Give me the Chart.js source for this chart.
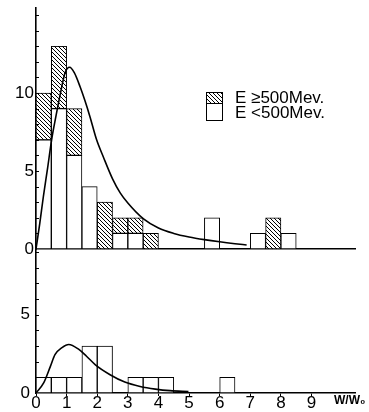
<!DOCTYPE html>
<html>
<head>
<meta charset="utf-8">
<script src="https://cdn.jsdelivr.net/npm/chart.js@4/dist/chart.umd.min.js"></script>
<style>
  html, body { margin: 0; padding: 0; background: #fff; }
  #wrap { position: relative; width: 369px; height: 412px; }
  canvas { position: absolute; left: 0; top: 0; }
</style>
</head>
<body>
<div id="wrap">
  <canvas id="top" width="369" height="412"></canvas>
  <canvas id="bottom" width="369" height="412"></canvas>
</div>
<script>
// ---- data ----
const binCenters = [0.25, 0.75, 1.25, 1.75, 2.25, 2.75, 3.25, 3.75, 4.25, 4.75, 5.25, 5.75, 6.25, 6.75, 7.25, 7.75, 8.25, 8.75];
const topLow   = [7, 9, 6, 4, 0, 1, 1, 0, 0, 0, 0, 2, 0, 0, 1, 0, 1, 0];   // E < 500 Mev
const topHigh  = [3, 4, 3, 0, 3, 1, 1, 1, 0, 0, 0, 0, 0, 0, 0, 2, 0, 0];   // E >= 500 Mev
const bottomLow = [1, 1, 1, 3, 3, 0, 1, 1, 1, 0, 0, 0, 1, 0, 0, 0, 0, 0];

const topCurveX = [0, 0.12, 0.24, 0.38, 0.51, 0.65, 0.78, 0.95, 1.1, 1.25, 1.44, 1.6, 1.76, 1.98, 2.2, 2.5, 2.75, 3.0, 3.5, 4.0, 4.5, 5.0, 5.5, 6.0, 6.5, 6.88];
const topCurveY = [0, 1.6, 3.35, 5.2, 7.0, 8.5, 9.8, 11.3, 11.65, 11.3, 10.4, 9.5, 8.5, 7.0, 5.9, 4.5, 3.6, 2.95, 1.95, 1.35, 1.0, 0.77, 0.6, 0.46, 0.34, 0.26];

const bottomCurveX = [0, 0.25, 0.47, 0.62, 0.85, 1.07, 1.39, 1.65, 1.94, 2.42, 2.9, 3.4, 3.9, 4.38, 4.98];
const bottomCurveY = [0, 0.64, 1.7, 2.45, 2.9, 3.1, 2.8, 2.35, 1.8, 1.17, 0.7, 0.42, 0.25, 0.15, 0.1];

const topYTicks = [0, 5, 10];
const bottomYTicks = [0, 5];
const xTicks = [0, 1, 2, 3, 4, 5, 6, 7, 8, 9];
const legendLabels = ['E \u2265500Mev.', 'E <500Mev.'];
const xAxisTitle = 'W/W\u2080';

// ---- helpers ----
const FONT = "'Liberation Sans', Arial, sans-serif";
function pts(xs, ys) { return xs.map((x, i) => ({ x: x, y: ys[i] })); }

function makeHatch() {
  const c = document.createElement('canvas');
  c.width = 4; c.height = 4;
  const g = c.getContext('2d');
  g.fillStyle = '#fff'; g.fillRect(0, 0, 4, 4);
  g.strokeStyle = '#000'; g.lineWidth = 1;
  g.beginPath();
  g.moveTo(-1, -1); g.lineTo(5, 5);
  g.moveTo(-1, 3); g.lineTo(1, 5);
  g.moveTo(3, -1); g.lineTo(5, 1);
  g.stroke();
  return g.createPattern(c, 'repeat');
}
const hatch = makeHatch();

function zeroPad(s) { s.paddingTop = 0; s.paddingBottom = 0; s.paddingLeft = 0; s.paddingRight = 0; }

const minorTicks = {
  id: 'minorTicks',
  afterDraw(chart) {
    const ctx = chart.ctx, y = chart.scales.y, left = chart.chartArea.left;
    ctx.save();
    ctx.strokeStyle = '#000'; ctx.lineWidth = 1;
    for (let v = 1; v <= Math.floor(y.max); v++) {
      const py = Math.round(y.getPixelForValue(v)) + 0.5;
      ctx.beginPath(); ctx.moveTo(left, py); ctx.lineTo(left + 3, py); ctx.stroke();
    }
    ctx.restore();
  }
};

const legendPlugin = {
  id: 'boxLegend',
  afterDraw(chart) {
    const ctx = chart.ctx;
    ctx.save();
    ctx.lineWidth = 1; ctx.strokeStyle = '#000';
    ctx.fillStyle = hatch; ctx.fillRect(206, 92, 16, 11); ctx.strokeRect(206.5, 92.5, 16, 11);
    ctx.fillStyle = '#fff'; ctx.fillRect(206, 103, 16, 17); ctx.strokeRect(206.5, 103.5, 16, 17);
    ctx.fillStyle = '#000';
    ctx.font = '17px ' + FONT;
    ctx.textBaseline = 'middle';
    ctx.fillText(legendLabels[0], 235, 98);
    ctx.fillText(legendLabels[1], 235, 113);
    ctx.restore();
  }
};

const titlePlugin = {
  id: 'xTitle',
  afterDraw(chart) {
    const ctx = chart.ctx;
    ctx.save();
    ctx.fillStyle = '#000';
    ctx.font = "bold 12px 'Liberation Sans', 'DejaVu Sans', sans-serif";
    ctx.textBaseline = 'middle';
    ctx.fillText(xAxisTitle, 334, 401);
    ctx.restore();
  }
};

const XMAX = 10.42;

function barDs(vals, bg, order) {
  return {
    type: 'bar',
    data: pts(binCenters, vals),
    backgroundColor: bg,
    borderColor: '#000',
    borderWidth: 1,
    borderSkipped: false,
    barPercentage: 1,
    categoryPercentage: 1,
    order: order
  };
}
function curveDs(xs, ys) {
  return {
    type: 'line',
    data: pts(xs, ys),
    borderColor: '#000',
    borderWidth: 1.6,
    pointRadius: 0,
    fill: false,
    cubicInterpolationMode: 'monotone',
    stack: 'curve',
    order: 0
  };
}

const common = {
  responsive: false,
  animation: false,
  devicePixelRatio: 1,
  plugins: { legend: { display: false }, tooltip: { enabled: false } }
};

// ---- top panel ----
new Chart(document.getElementById('top'), {
  type: 'bar',
  data: {
    datasets: [
      barDs(topLow, '#fff', 1),
      barDs(topHigh, hatch, 2),
      curveDs(topCurveX, topCurveY)
    ]
  },
  options: Object.assign({}, common, {
    layout: { padding: { left: 0, top: 8, right: 14, bottom: 163 } },
    scales: {
      x: {
        type: 'linear', min: 0, max: XMAX, stacked: true, offset: false,
        ticks: { display: false },
        grid: { display: false, offset: false },
        border: { display: true, color: '#000', width: 1.6 },
        afterFit(s) { s.height = 0; zeroPad(s); }
      },
      y: {
        min: 0, max: 15.45, stacked: true,
        afterBuildTicks(s) { s.ticks = topYTicks.map(v => ({ value: v })); },
        ticks: { color: '#000', font: { family: FONT, size: 17 }, padding: 2 },
        grid: { display: false, drawTicks: false },
        border: { display: true, color: '#000', width: 1.6 },
        afterFit(s) { s.width = 36; zeroPad(s); }
      }
    }
  }),
  plugins: [minorTicks, legendPlugin]
});

// ---- bottom panel ----
new Chart(document.getElementById('bottom'), {
  type: 'bar',
  data: {
    datasets: [
      barDs(bottomLow, '#fff', 1),
      curveDs(bottomCurveX, bottomCurveY)
    ]
  },
  options: Object.assign({}, common, {
    layout: { padding: { left: 0, top: 249, right: 14, bottom: 0 } },
    scales: {
      x: {
        type: 'linear', min: 0, max: XMAX, stacked: true, offset: false,
        afterBuildTicks(s) { s.ticks = xTicks.map(v => ({ value: v })); },
        ticks: { color: '#000', font: { family: FONT, size: 17 }, padding: -3, maxRotation: 0, autoSkip: false },
        grid: { display: true, offset: false, drawOnChartArea: false, drawTicks: true, tickLength: 3, color: '#000', lineWidth: 1 },
        border: { display: true, color: '#000', width: 1.6 },
        afterFit(s) { s.height = 19; zeroPad(s); }
      },
      y: {
        min: 0, max: 9.2, stacked: true,
        afterBuildTicks(s) { s.ticks = bottomYTicks.map(v => ({ value: v })); },
        ticks: { color: '#000', font: { family: FONT, size: 17 }, padding: 6 },
        grid: { display: false, drawTicks: false },
        border: { display: true, color: '#000', width: 1.6 },
        afterFit(s) { s.width = 36; zeroPad(s); }
      }
    }
  }),
  plugins: [minorTicks, titlePlugin]
});
</script>
</body>
</html>
